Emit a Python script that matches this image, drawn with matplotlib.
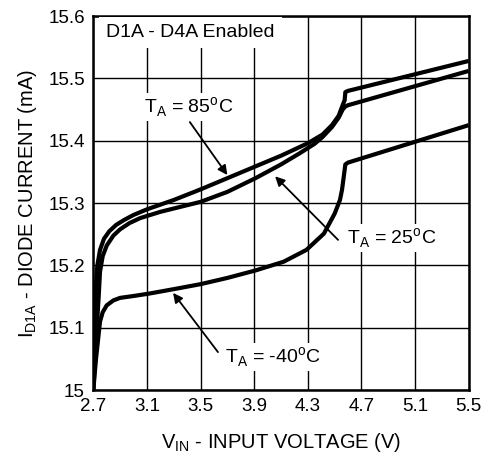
import matplotlib
matplotlib.use('Agg')
import matplotlib.pyplot as plt

plt.rcParams['font.family'] = ['Liberation Sans', 'DejaVu Sans']

# curve data (V, mA)
v_85 = [2.70, 2.71, 2.72, 2.73, 2.75, 2.78, 2.82, 2.87, 2.93, 3.00, 3.10,
        3.30, 3.50, 3.70, 3.90, 4.10, 4.30, 4.41, 4.48, 4.53, 4.56, 4.575,
        4.58, 4.60, 5.50]
i_85 = [15.00, 15.10, 15.17, 15.20, 15.225, 15.243, 15.255, 15.265, 15.273,
        15.281, 15.29, 15.305, 15.322, 15.34, 15.358, 15.376, 15.396, 15.41,
        15.425, 15.44, 15.457, 15.465, 15.478, 15.48, 15.528]

v_25 = [2.70, 2.72, 2.74, 2.75, 2.77, 2.80, 2.85, 2.90, 2.97, 3.05, 3.20,
        3.50, 3.70, 3.91, 4.10, 4.24, 4.35, 4.41, 4.48, 4.53, 4.56, 4.58,
        4.60, 5.50]
i_25 = [15.00, 15.08, 15.15, 15.19, 15.215, 15.232, 15.248, 15.258, 15.268,
        15.276, 15.286, 15.302, 15.318, 15.34, 15.362, 15.38, 15.395, 15.406,
        15.422, 15.437, 15.45, 15.455, 15.457, 15.512]

v_m40 = [2.70, 2.72, 2.74, 2.75, 2.77, 2.80, 2.85, 2.90, 3.00, 3.12, 3.30,
         3.50, 3.70, 3.91, 4.12, 4.29, 4.42, 4.50, 4.54, 4.555, 4.57, 4.58,
         4.60, 5.50]
i_m40 = [15.00, 15.05, 15.09, 15.11, 15.125, 15.136, 15.144, 15.148, 15.151,
         15.155, 15.162, 15.170, 15.180, 15.192, 15.206, 15.225, 15.251,
         15.283, 15.305, 15.321, 15.345, 15.362, 15.365, 15.425]

x_ticks = [2.7, 3.1, 3.5, 3.9, 4.3, 4.7, 5.1, 5.5]
x_labels = ['2.7', '3.1', '3.5', '3.9', '4.3', '4.7', '5.1', '5.5']
y_ticks = [15.0, 15.1, 15.2, 15.3, 15.4, 15.5, 15.6]
y_labels = ['15', '15.1', '15.2', '15.3', '15.4', '15.5', '15.6']

fig = plt.figure(figsize=(4.84, 4.59), dpi=100)
ax = fig.add_axes([0.1928, 0.150, 0.7755, 0.815])

for v, i in [(v_85, i_85), (v_25, i_25), (v_m40, i_m40)]:
    ax.plot(v, i, color='black', lw=3.0, solid_joinstyle='round',
            solid_capstyle='butt', zorder=3)

ax.set_xlim(2.7, 5.5)
ax.set_ylim(15.0, 15.6)
ax.set_xticks(x_ticks)
ax.set_xticklabels(x_labels, fontsize=13.5)
ax.set_yticks(y_ticks)
ax.set_yticklabels(y_labels, fontsize=13.5)
ax.tick_params(length=0, pad=6)
ax.grid(True, color='black', lw=1.0)
ax.set_axisbelow(True)
for s in ax.spines.values():
    s.set_linewidth(1.8)

ax.set_xlabel(r'V$_{\mathregular{IN}}$ - INPUT VOLTAGE (V)', fontsize=14.5,
              labelpad=11)
ax.set_ylabel(r'I$_{\mathregular{D1A}}$ - DIODE CURRENT (mA)', fontsize=14.5,
              labelpad=7)

box = dict(facecolor='white', edgecolor='none', pad=1.5)
ax.text(2.795, 15.573, 'D1A - D4A Enabled', fontsize=14, va='center',
        ha='left', bbox=dict(facecolor='white', edgecolor='none', pad=5),
        zorder=4)
ax.text(3.08, 15.454, r'T$_{\mathregular{A}}$ = 85$^{\mathregular{o}}$C',
        fontsize=14, va='center', ha='left', bbox=box, zorder=4)
ax.text(4.59, 15.244, r'T$_{\mathregular{A}}$ = 25$^{\mathregular{o}}$C',
        fontsize=14, va='center', ha='left', bbox=box, zorder=4)
ax.text(3.68, 15.053, r'T$_{\mathregular{A}}$ = -40$^{\mathregular{o}}$C',
        fontsize=14, va='center', ha='left', bbox=box, zorder=4)

arrow = dict(arrowstyle='-|>', color='black', lw=1.3, mutation_scale=14,
             shrinkA=0, shrinkB=0)
ax.annotate('', xy=(3.70, 15.345), xytext=(3.42, 15.43), arrowprops=arrow,
            zorder=5)
ax.annotate('', xy=(4.056, 15.343), xytext=(4.526, 15.241), arrowprops=arrow,
            zorder=5)
ax.annotate('', xy=(3.295, 15.156), xytext=(3.63, 15.061), arrowprops=arrow,
            zorder=5)

fig.savefig('out.png', dpi=100)
